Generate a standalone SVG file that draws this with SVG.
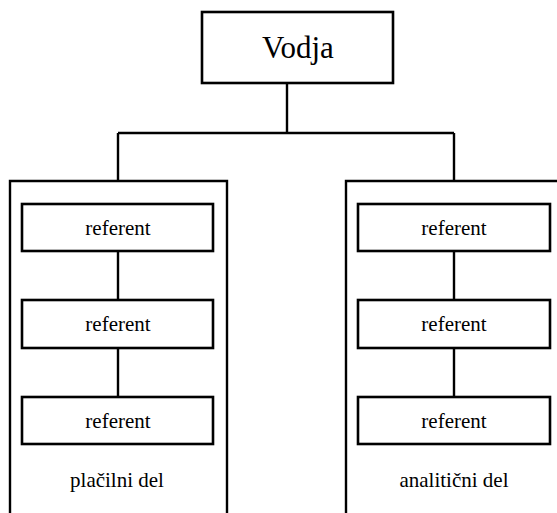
<svg xmlns="http://www.w3.org/2000/svg" width="557" height="513" viewBox="0 0 557 513">
<style>
.box{fill:#fff;stroke:#000;stroke-width:2.6}
.ln{fill:none;stroke:#000;stroke-width:2.4}
.t,.big{font-family:'Liberation Serif','DejaVu Serif','Times New Roman',serif;fill:#000;text-anchor:middle}
.t{font-size:21px}
.big{font-size:31px}
</style>
<rect width="557" height="513" fill="#fff"/>
<g id="connectors">
<path class="ln" d="M287 84V133M118 133H454M118 133V181M454 133V181"/>
<path class="ln" d="M118 251V300M118 349V397M454 251V300M454 349V397"/>
</g>
<g id="panel-left">
<path class="ln" d="M10 513V181H227V513"/>
<text class="t" x="117" y="487" font-family="Liberation Serif, serif">plačilni del</text>
</g>
<g id="panel-right">
<path class="ln" d="M346 513V181H560"/>
<text class="t" x="454" y="487" font-family="Liberation Serif, serif">analitični del</text>
</g>
<g id="vodja">
<rect class="box" x="202" y="12" width="191" height="71"/>
<text class="big" x="298" y="58" font-family="Liberation Serif, serif">Vodja</text>
</g>
<g id="ref-l1"><rect class="box" x="22" y="204" width="191" height="47"/><text class="t" x="118" y="235" font-family="Liberation Serif, serif">referent</text></g>
<g id="ref-l2"><rect class="box" x="22" y="300" width="191" height="48"/><text class="t" x="118" y="331" font-family="Liberation Serif, serif">referent</text></g>
<g id="ref-l3"><rect class="box" x="22" y="397" width="191" height="47"/><text class="t" x="118" y="428" font-family="Liberation Serif, serif">referent</text></g>
<g id="ref-r1"><rect class="box" x="358" y="204" width="192" height="47"/><text class="t" x="454" y="235" font-family="Liberation Serif, serif">referent</text></g>
<g id="ref-r2"><rect class="box" x="358" y="300" width="192" height="48"/><text class="t" x="454" y="331" font-family="Liberation Serif, serif">referent</text></g>
<g id="ref-r3"><rect class="box" x="358" y="397" width="192" height="47"/><text class="t" x="454" y="428" font-family="Liberation Serif, serif">referent</text></g>
</svg>
